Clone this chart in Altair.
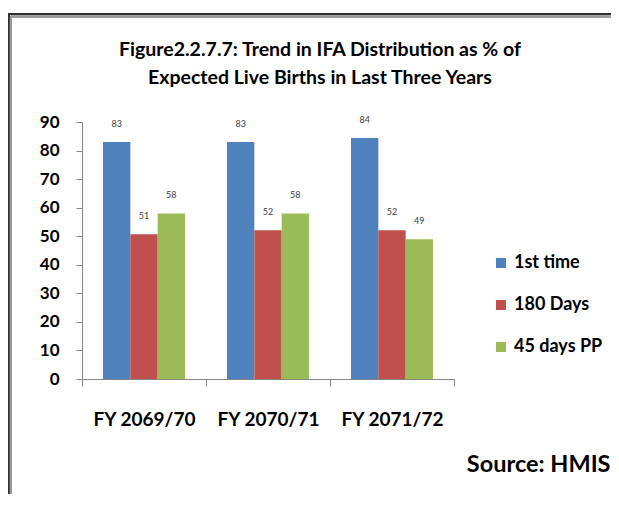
import altair as alt
import pandas as pd

years = ["FY 2069/70", "FY 2070/71", "FY 2071/72"]
series = ["1st time", "180 Days", "45 days PP"]
first_time = [83.0, 83.0, 84.4]
days_180 = [50.7, 52.1, 52.1]
days_45pp = [58.0, 58.0, 48.9]
colors = ["#4F81BD", "#C0504D", "#9BBB59"]

rows = []
for i, y in enumerate(years):
    for s, vals in zip(series, [first_time, days_180, days_45pp]):
        rows.append({"year": y, "series": s, "value": vals[i]})
df = pd.DataFrame(rows)

FONT = "Lato"

xenc = alt.X(
    "year:N",
    sort=years,
    scale=alt.Scale(paddingInner=0, paddingOuter=0),
    axis=alt.Axis(
        title="Source: HMIS",
        titleFont=FONT,
        titleFontSize=23.5,
        titleFontWeight="bold",
        titleColor="#000000",
        titleAnchor="end",
        titleAlign="right",
        titleBaseline="alphabetic",
        titleX=528,
        titleY=92,
        labelAngle=0,
        labelFont=FONT,
        labelFontSize=19,
        labelFontWeight="bold",
        labelColor="#000000",
        labelPadding=24,
        tickBand="extent",
        tickSize=7,
        tickColor="#868686",
        domainColor="#868686",
        grid=False,
    ),
)
xoff = alt.XOffset(
    "series:N",
    sort=series,
    scale=alt.Scale(paddingInner=0, paddingOuter=0.77),
)
yenc = alt.Y(
    "value:Q",
    scale=alt.Scale(domain=[0, 90], nice=False),
    axis=alt.Axis(
        title=None,
        values=list(range(0, 91, 10)),
        labelOverlap=False,
        labelFont=FONT,
        labelFontSize=17,
        labelFontWeight="bold",
        labelColor="#000000",
        labelPadding=17,
        tickSize=6,
        tickColor="#868686",
        domainColor="#868686",
        grid=False,
    ),
)

bars = alt.Chart(df).mark_bar().encode(
    x=xenc,
    xOffset=xoff,
    y=yenc,
    color=alt.Color(
        "series:N",
        sort=series,
        scale=alt.Scale(domain=series, range=colors),
        legend=alt.Legend(
            title=None,
            orient="none",
            legendX=410,
            legendY=132,
            padding=0,
            symbolType="square",
            symbolSize=100,
            symbolStrokeWidth=0,
            labelFont=FONT,
            labelFontSize=18,
            labelFontWeight="bold",
            labelColor="#000000",
            labelOffset=4,
            rowPadding=24,
        ),
    ),
)

labels = alt.Chart(df).mark_text(
    dy=-18, fontSize=9, font=FONT, color="#404040", baseline="middle"
).encode(
    x=xenc,
    xOffset=xoff,
    y=yenc,
    text=alt.Text("value:Q", format=".0f"),
)

frame_dark_v = alt.Chart(df).mark_rule(color="#303030", strokeWidth=1.5).encode(
    x=alt.value(-73.3), y=alt.value(-108), y2=alt.value(400)
)
frame_light_v = alt.Chart(df).mark_rule(color="#9a9a9a", strokeWidth=1.5).encode(
    x=alt.value(-71.3), y=alt.value(-105.5), y2=alt.value(400)
)
frame_dark_h = alt.Chart(df).mark_rule(color="#303030", strokeWidth=1.5).encode(
    x=alt.value(-74), x2=alt.value(545), y=alt.value(-108)
)
frame_light_h = alt.Chart(df).mark_rule(color="#9a9a9a", strokeWidth=1.5).encode(
    x=alt.value(-71.3), x2=alt.value(545), y=alt.value(-105.5)
)

chart = alt.layer(
    bars, labels, frame_dark_v, frame_light_v, frame_dark_h, frame_light_h
).properties(
    width=372,
    height=257,
    background="white",
    padding={"left": 74, "top": 114, "right": 157, "bottom": 115},
    autosize=alt.AutoSizeParams(type="none"),
    title=alt.TitleParams(
        text=[
            "Figure2.2.7.7: Trend in IFA Distribution as % of",
            "Expected Live Births in Last Three Years",
        ],
        font=FONT,
        fontSize=19.5,
        fontWeight="bold",
        color="#000000",
        anchor="middle",
        baseline="bottom",
        lineHeight=28,
        dx=52,
        offset=-94,
    ),
).configure_view(stroke=None)

chart.save("out.html", embed_options={"renderer": "svg", "actions": False})
